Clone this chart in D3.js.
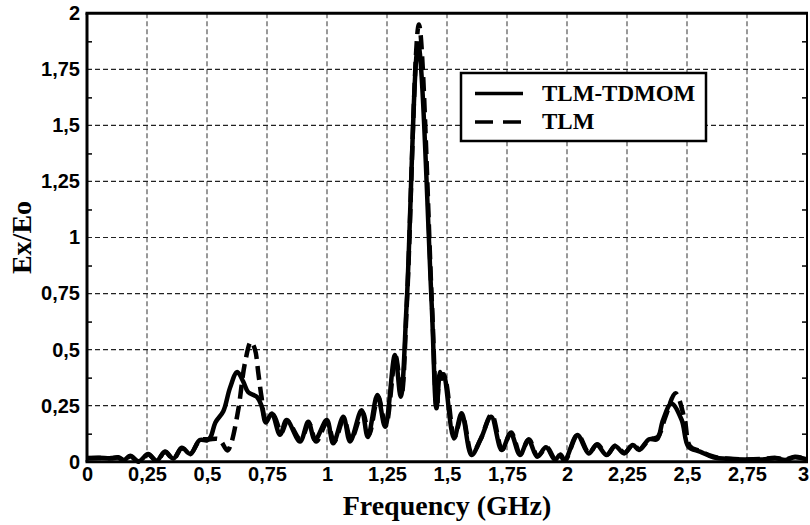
<html>
<head>
<title>Ex/Eo vs frequency</title>
<script src="https://cdn.jsdelivr.net/npm/d3@7"></script>
<style>
  body { margin: 0; background: #fff; }
  .tick text { font-family: "Liberation Sans", Arial, sans-serif; font-weight: bold; font-size: 20px; fill: #000; }
</style>
</head>
<body>
<div id="chart"></div>
<script>
// Data
// TLM-TDMOM (solid)
var tdmomF = [0, 0.05, 0.10, 0.13, 0.155, 0.18, 0.215, 0.255, 0.29, 0.325, 0.36, 0.395, 0.43, 0.47, 0.50, 0.515,
  0.535, 0.568, 0.596, 0.626, 0.651, 0.672, 0.707, 0.727, 0.745, 0.77, 0.804, 0.832, 0.8875, 0.922, 0.95, 0.999,
  1.026, 1.068, 1.096, 1.144, 1.17, 1.21, 1.242, 1.283, 1.307, 1.332, 1.38, 1.436, 1.456, 1.471, 1.479, 1.487,
  1.529, 1.561, 1.602, 1.64, 1.684, 1.728, 1.765, 1.804, 1.839, 1.876, 1.9125, 1.95, 1.97, 1.99, 2.043, 2.09,
  2.124, 2.165, 2.20, 2.238, 2.274, 2.30, 2.342, 2.375, 2.40, 2.435, 2.478, 2.506, 2.554, 2.61, 2.68, 2.75,
  2.81, 2.87, 2.91, 2.95, 3.0];
var tdmomV = [0.017, 0.018, 0.016, 0.02, 0.008, 0.026, 0.002, 0.034, 0.004, 0.045, 0.014, 0.062, 0.035, 0.097, 0.095, 0.11,
  0.175, 0.225, 0.33, 0.40, 0.357, 0.31, 0.29, 0.25, 0.175, 0.215, 0.12, 0.186, 0.09, 0.178, 0.097, 0.186,
  0.082, 0.20, 0.09, 0.23, 0.11, 0.297, 0.156, 0.476, 0.29, 0.706, 1.86, 0.706, 0.238, 0.40, 0.37, 0.39,
  0.104, 0.216, 0.03, 0.10, 0.20, 0.052, 0.127, 0.03, 0.097, 0.022, 0.064, 0.008, 0.03, 0.005, 0.119, 0.037,
  0.075, 0.03, 0.07, 0.037, 0.075, 0.052, 0.10, 0.10, 0.186, 0.26, 0.186, 0.067, 0.045, 0.02, 0.012, 0.01,
  0.01, 0.015, 0.008, 0.02, 0.01];
// TLM (dashed)
var tlmF = [0, 0.05, 0.10, 0.13, 0.155, 0.18, 0.215, 0.255, 0.29, 0.325, 0.36, 0.395, 0.43, 0.47, 0.51, 0.55,
  0.585, 0.60, 0.63, 0.658, 0.683, 0.70, 0.714, 0.727, 0.745, 0.775, 0.81, 0.835, 0.89, 0.925, 0.955, 1.00,
  1.03, 1.07, 1.10, 1.148, 1.175, 1.213, 1.245, 1.286, 1.31, 1.333, 1.383, 1.437, 1.458, 1.473, 1.489,
  1.531, 1.563, 1.604, 1.64, 1.686, 1.73, 1.767, 1.806, 1.841, 1.878, 1.915, 1.952, 1.972, 1.992, 2.045, 2.092,
  2.126, 2.167, 2.202, 2.24, 2.276, 2.302, 2.344, 2.378, 2.41, 2.452, 2.49, 2.512, 2.556, 2.612, 2.68, 2.75,
  2.81, 2.87, 2.91, 2.95, 3.0];
var tlmV = [0.015, 0.017, 0.015, 0.018, 0.006, 0.024, 0.0, 0.032, 0.003, 0.043, 0.012, 0.06, 0.033, 0.095, 0.10, 0.10,
  0.05, 0.08, 0.23, 0.44, 0.535, 0.50, 0.394, 0.29, 0.19, 0.21, 0.13, 0.18, 0.10, 0.17, 0.09, 0.175,
  0.09, 0.19, 0.10, 0.22, 0.12, 0.29, 0.16, 0.47, 0.30, 0.71, 1.95, 0.71, 0.24, 0.39, 0.38,
  0.11, 0.21, 0.035, 0.10, 0.21, 0.055, 0.13, 0.035, 0.10, 0.025, 0.065, 0.01, 0.032, 0.006, 0.12, 0.04,
  0.078, 0.032, 0.072, 0.04, 0.078, 0.055, 0.10, 0.11, 0.20, 0.305, 0.19, 0.07, 0.047, 0.022, 0.013, 0.01,
  0.012, 0.017, 0.01, 0.022, 0.012];

var xTicks = [0, 0.25, 0.5, 0.75, 1, 1.25, 1.5, 1.75, 2, 2.25, 2.5, 2.75, 3];
var xLabels = ["0", "0,25", "0,5", "0,75", "1", "1,25", "1,5", "1,75", "2", "2,25", "2,5", "2,75", "3"];
var yTicks = [0, 0.25, 0.5, 0.75, 1, 1.25, 1.5, 1.75, 2];
var yLabels = ["0", "0,25", "0,5", "0,75", "1", "1,25", "1,5", "1,75", "2"];
var yMinor = [0.125, 0.375, 0.625, 0.875, 1.125, 1.375, 1.625, 1.875];
var seriesNames = ["TLM-TDMOM", "TLM"];

//Setup
var W = 810, H = 525;
var svg = d3.select("#chart").append("svg")
  .attr("width", W)
  .attr("height", H);

var x = d3.scaleLinear().domain([0, 3]).range([87, 807]);
var y = d3.scaleLinear().domain([0, 2]).range([461.7, 13.3]);

// Grid
svg.append("g").selectAll("line")
  .data(xTicks.slice(1, -1))
  .enter().append("line")
  .attr("x1", d => x(d)).attr("x2", d => x(d))
  .attr("y1", y(2)).attr("y2", y(0))
  .attr("stroke", "#555")
  .attr("stroke-width", 1.2)
  .attr("stroke-dasharray", "5,3");
svg.append("g").selectAll("line")
  .data(yTicks.slice(1, -1))
  .enter().append("line")
  .attr("x1", x(0)).attr("x2", x(3))
  .attr("y1", d => y(d)).attr("y2", d => y(d))
  .attr("stroke", "#222")
  .attr("stroke-width", 1.2)
  .attr("stroke-dasharray", "5,3");

// Minor ticks inside left and right frame
svg.append("g")
  .attr("transform", "translate(" + x(0) + ",0)")
  .call(d3.axisRight(y).tickValues(yMinor).tickSize(5).tickFormat(""))
  .call(g => g.select(".domain").remove())
  .call(g => g.selectAll(".tick line").attr("stroke", "#000").attr("stroke-width", 1.5));
svg.append("g")
  .attr("transform", "translate(" + x(3) + ",0)")
  .call(d3.axisLeft(y).tickValues(yMinor).tickSize(5).tickFormat(""))
  .call(g => g.select(".domain").remove())
  .call(g => g.selectAll(".tick line").attr("stroke", "#000").attr("stroke-width", 1.5));

// Tick labels
svg.append("g")
  .attr("transform", "translate(0," + y(0) + ")")
  .call(d3.axisBottom(x).tickValues(xTicks).tickSize(0).tickPadding(5)
    .tickFormat((d, i) => xLabels[i]))
  .call(g => g.select(".domain").remove())
  .call(g => g.selectAll(".tick text").filter(d => d === 3).attr("dx", "-4"));
svg.append("g")
  .attr("transform", "translate(" + x(0) + ",0)")
  .call(d3.axisLeft(y).tickValues(yTicks).tickSize(0).tickPadding(7)
    .tickFormat((d, i) => yLabels[i]))
  .call(g => g.select(".domain").remove());

// Curves
var line = d3.line()
  .x(d => x(d[0]))
  .y(d => y(d[1]))
  .curve(d3.curveCatmullRom.alpha(0.5));

var tlm = tlmF.map((f, i) => [f, tlmV[i]]);
var tdmom = tdmomF.map((f, i) => [f, tdmomV[i]]);

svg.append("path")
  .datum(tlm)
  .attr("d", line)
  .attr("fill", "none")
  .attr("stroke", "#000")
  .attr("stroke-width", 4.5)
  .attr("stroke-dasharray", "14,7");
svg.append("path")
  .datum(tdmom)
  .attr("d", line)
  .attr("fill", "none")
  .attr("stroke", "#000")
  .attr("stroke-width", 4.5)
  .attr("stroke-linejoin", "round");

// Frame
svg.append("line").attr("x1", x(0) - 1.5).attr("x2", x(3) + 1).attr("y1", y(2)).attr("y2", y(2))
  .attr("stroke", "#000").attr("stroke-width", 3);
svg.append("line").attr("x1", x(0) - 1.5).attr("x2", x(3) + 1).attr("y1", y(0)).attr("y2", y(0))
  .attr("stroke", "#000").attr("stroke-width", 3);
svg.append("line").attr("x1", x(0)).attr("x2", x(0)).attr("y1", y(2)).attr("y2", y(0))
  .attr("stroke", "#000").attr("stroke-width", 3);
svg.append("line").attr("x1", x(3)).attr("x2", x(3)).attr("y1", y(2)).attr("y2", y(0))
  .attr("stroke", "#000").attr("stroke-width", 2);

// Legend
var lg = svg.append("g");
lg.append("rect")
  .attr("x", 461).attr("y", 73).attr("width", 245).attr("height", 68)
  .attr("fill", "#fff").attr("stroke", "#000").attr("stroke-width", 2.5);
lg.append("line").attr("x1", 475).attr("x2", 523).attr("y1", 93.5).attr("y2", 93.5)
  .attr("stroke", "#000").attr("stroke-width", 3.5);
lg.append("line").attr("x1", 475).attr("x2", 523).attr("y1", 122).attr("y2", 122)
  .attr("stroke", "#000").attr("stroke-width", 3.5).attr("stroke-dasharray", "18,10");
lg.selectAll("text")
  .data(seriesNames)
  .enter().append("text")
  .attr("x", 542)
  .attr("y", (d, i) => 101 + i * 28)
  .attr("font-family", "'Liberation Serif', 'Times New Roman', serif")
  .attr("font-weight", "bold")
  .attr("font-size", "23px")
  .text(d => d);

// Axis titles
svg.append("text")
  .attr("x", (x(0) + x(3)) / 2)
  .attr("y", 515)
  .attr("text-anchor", "middle")
  .attr("font-family", "'Liberation Serif', 'Times New Roman', serif")
  .attr("font-weight", "bold")
  .attr("font-size", "28px")
  .text("Frequency (GHz)");
svg.append("text")
  .attr("transform", "translate(31," + ((y(0) + y(2)) / 2) + ") rotate(-90)")
  .attr("text-anchor", "middle")
  .attr("font-family", "'Liberation Serif', 'Times New Roman', serif")
  .attr("font-weight", "bold")
  .attr("font-size", "28px")
  .text("Ex/Eo");
</script>
</body>
</html>
